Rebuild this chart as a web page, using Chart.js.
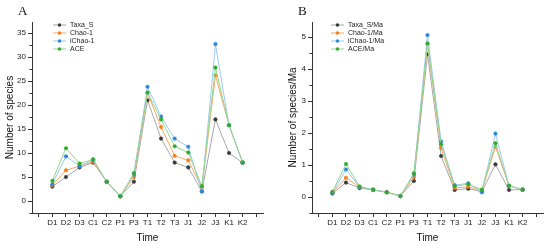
<!DOCTYPE html>
<html>
<head>
<meta charset="utf-8">
<script src="https://cdn.jsdelivr.net/npm/chart.js@4"></script>
<style>
    body { margin: 0; background: #fff; width: 550px; height: 248px; position: relative; overflow: hidden; }
    .panel { position: absolute; top: 0; width: 275px; height: 248px; }
    .tag { position: absolute; top: 4px; font: 13px/13px "Liberation Serif", "Times New Roman", serif; color: #111; }
</style>
</head>
<body>
<div class="panel" style="left:0"><canvas id="chartA" width="275" height="248"></canvas></div>
<div class="panel" style="left:275px"><canvas id="chartB" width="275" height="248"></canvas></div>
<div class="tag" style="left:18px">A</div>
<div class="tag" style="left:298px">B</div>
<script>
// Time intervals (x axis)
var times = ['D1', 'D2', 'D3', 'C1', 'C2', 'P1', 'P3', 'T1', 'T2', 'T3', 'J1', 'J2', 'J3', 'K1', 'K2'];

// Panel A: number of species
var labelsA = ['Taxa_S', 'Chao-1', 'iChao-1', 'ACE'];
var taxaS  = [3, 5, 7, 8, 4, 1, 4, 21, 13, 8, 7, 2, 17, 10, 8];
var chao1  = [3.3, 6.4, 7.3, 8.2, 4, 1, 5, 22.5, 15.4, 9.4, 8.5, 2.7, 26.2, 15.8, 8];
var ichao1 = [3.5, 9.3, 7.3, 8.5, 4, 1, 5.5, 23.8, 17.6, 13, 11.3, 2, 32.7, 15.8, 8];
var ace    = [4.2, 11, 7.8, 8.7, 4, 1, 5.8, 22.6, 17, 11.4, 10.1, 3.1, 27.8, 15.8, 8];

// Panel B: number of species per Ma
var labelsB = ['Taxa_S/Ma', 'Chao-1/Ma', 'iChao-1/Ma', 'ACE/Ma'];
var taxaSMa  = [0.11, 0.45, 0.28, 0.22, 0.15, 0.03, 0.50, 4.46, 1.28, 0.22, 0.26, 0.17, 1.02, 0.22, 0.23];
var chao1Ma  = [0.13, 0.60, 0.31, 0.22, 0.15, 0.03, 0.62, 4.78, 1.53, 0.28, 0.32, 0.19, 1.57, 0.35, 0.23];
var ichao1Ma = [0.12, 0.86, 0.31, 0.23, 0.15, 0.03, 0.70, 5.06, 1.73, 0.37, 0.43, 0.15, 1.98, 0.35, 0.23];
var aceMa    = [0.16, 1.03, 0.33, 0.23, 0.15, 0.03, 0.74, 4.80, 1.65, 0.34, 0.40, 0.23, 1.68, 0.35, 0.23];

var lineColors = ['#a8a8a8', '#f9a862', '#9ccbf0', '#8fd68f'];
var markColors = ['#3a3a3a', '#f77f1c', '#2f8ad6', '#33a933'];
var axisColor = '#333';
var sansFont = '"Liberation Sans", Arial, sans-serif';

// blank slot on each side of the categories, like the original axis
var xLabels = [''].concat(times, ['']);

function makeSets(labels, series) {
    return series.map(function (vals, i) {
        return {
            label: labels[i],
            data: [null].concat(vals, [null]),
            borderColor: lineColors[i],
            backgroundColor: markColors[i],
            pointBackgroundColor: markColors[i],
            pointBorderColor: markColors[i],
            borderWidth: 1,
            pointRadius: 1.8,
            pointBorderWidth: 0.5,
            tension: 0,
            order: series.length - 1 - i
        };
    });
}

// short minor ticks between the labelled ones
var minorTicks = {
    id: 'minorTicks',
    afterDraw: function (chart, args, opts) {
        var y = chart.scales.y, ctx = chart.ctx;
        var k0 = Math.ceil(y.min / opts.step - 1e-9);
        ctx.save();
        ctx.strokeStyle = axisColor;
        ctx.lineWidth = 1;
        ctx.beginPath();
        for (var k = k0; k * opts.step <= y.max + 1e-9; k++) {
            if (k % 2 === 0) continue;
            var py = Math.round(y.getPixelForValue(k * opts.step)) + 0.5;
            ctx.moveTo(y.right - 2.5, py);
            ctx.lineTo(y.right, py);
        }
        ctx.stroke();
        ctx.restore();
    }
};

// legend with a line sample and a marker, as in Origin
var lineLegend = {
    id: 'lineLegend',
    afterDatasetsDraw: function (chart, args, opts) {
        var ctx = chart.ctx;
        ctx.save();
        ctx.font = opts.font;
        ctx.textBaseline = 'middle';
        chart.data.datasets.forEach(function (ds, i) {
            var yy = opts.y + i * opts.rowH;
            ctx.strokeStyle = ds.borderColor;
            ctx.lineWidth = 1;
            ctx.beginPath();
            ctx.moveTo(opts.x, yy);
            ctx.lineTo(opts.x + 13, yy);
            ctx.stroke();
            ctx.fillStyle = ds.pointBackgroundColor;
            ctx.beginPath();
            ctx.arc(opts.x + 6.5, yy, 1.8, 0, Math.PI * 2);
            ctx.fill();
            ctx.fillStyle = '#222';
            ctx.fillText(ds.label, opts.x + 17, yy + 0.5);
        });
        ctx.restore();
    }
};

function makeChart(id, labels, series, yMin, yMax, yStep, yTitle, axisWidth, padRight, titlePad, legendX) {
    return new Chart(document.getElementById(id), {
        type: 'line',
        data: { labels: xLabels, datasets: makeSets(labels, series) },
        plugins: [minorTicks, lineLegend],
        options: {
            responsive: false,
            animation: false,
            layout: { padding: { left: 0, top: 22, right: padRight, bottom: 0 } },
            plugins: {
                legend: { display: false },
                tooltip: { enabled: false },
                minorTicks: { step: yStep / 2 },
                lineLegend: { x: legendX, y: 25, rowH: 8, font: '7px ' + sansFont }
            },
            scales: {
                x: {
                    type: 'category',
                    offset: true,
                    grid: { display: true, drawOnChartArea: false, drawTicks: true, tickLength: 4, color: axisColor },
                    border: { display: true, color: axisColor, width: 1 },
                    ticks: { autoSkip: false, maxRotation: 0, padding: 1, color: '#222', font: { family: sansFont, size: 8 } },
                    title: { display: true, text: 'Time', color: '#111', padding: { top: 0, bottom: 4 }, font: { family: sansFont, size: 10 } },
                    afterFit: function (scale) { scale.height = 35; }
                },
                y: {
                    min: yMin,
                    max: yMax,
                    grid: { display: true, drawOnChartArea: false, drawTicks: true, tickLength: 4, color: axisColor },
                    border: { display: true, color: axisColor, width: 1 },
                    ticks: { stepSize: yStep, includeBounds: false, padding: 2, color: '#222', font: { family: sansFont, size: 8 } },
                    title: { display: true, text: yTitle, color: '#111', padding: { top: titlePad, bottom: 0 }, font: { family: sansFont, size: 10 } },
                    afterFit: function (scale) { scale.width = axisWidth; }
                }
            }
        }
    });
}

makeChart('chartA', labelsA, [taxaS, chao1, ichao1, ace], -2.5, 37.3, 5, 'Number of species', 32, 12, 4, 53);
makeChart('chartB', labelsB, [taxaSMa, chao1Ma, ichao1Ma, aceMa], -0.5, 5.47, 1, 'Number of species/Ma', 37, 7, 12, 56);
</script>
</body>
</html>
